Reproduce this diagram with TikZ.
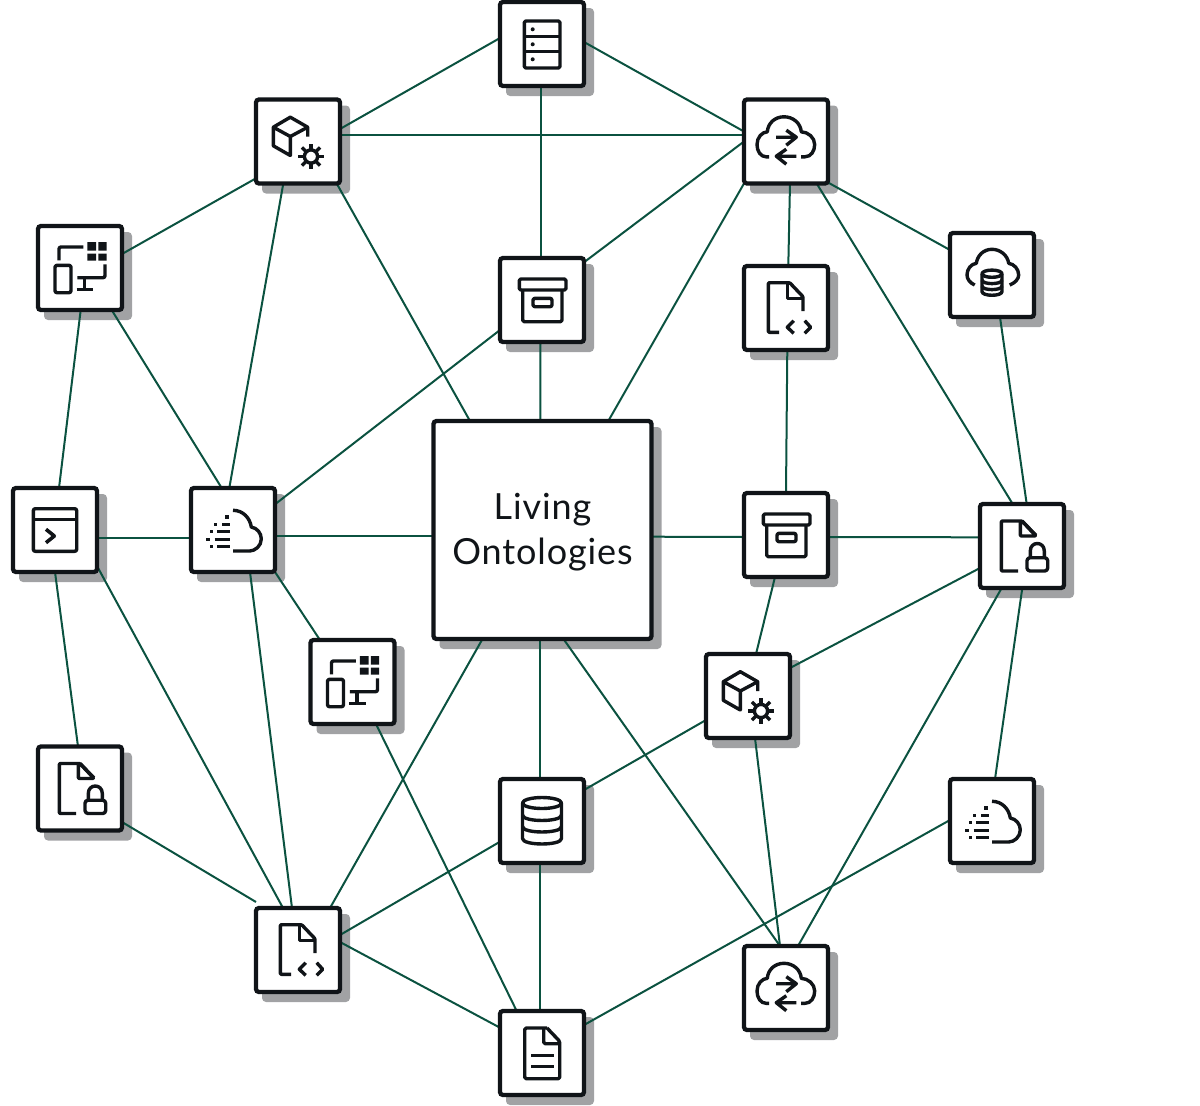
\documentclass[tikz,border=0pt]{standalone}
\usepackage{xcolor}
\usepackage{fontspec}
\setmainfont[LetterSpace=2.5]{Lato}
\definecolor{ink}{HTML}{101418}
\definecolor{linkgreen}{HTML}{0B5240}
\definecolor{shadowgrey}{HTML}{A1A2A4}
\pgfdeclarelayer{shadows}
\pgfdeclarelayer{links}
\pgfsetlayers{shadows,links,main}
\tikzset{
    tile/.style={rectangle, draw=ink, fill=white, line width=4.3pt, rounded corners=3pt, minimum size=84pt, outer sep=0pt, inner sep=0pt},
    core/.style={tile, minimum size=218pt, font=\fontsize{36}{45}\selectfont, text=ink, align=center},
    link/.style={draw=linkgreen, line width=2pt},
    glyph/.style={draw=ink, line width=3.4pt, line join=round},
    server glyph/.pic={
        \draw[glyph, rounded corners=1.5pt] (-17.7,-23) rectangle (18,24);
        \draw[glyph] (-17.7,-7.7) -- (18,-7.7) (-17.7,7.2) -- (18,7.2);
        \foreach \y in {-14.7,0.3,15.3} \fill[ink] (-9.3,\y) circle (2pt);
    },
    sync glyph/.pic={
        \draw[glyph, line cap=butt] (-17,15.3) -- (-20,15.3) .. controls (-25.5,15.3) and (-29,9.5) .. (-29,3) .. controls (-29,-4) and (-24,-9.5) .. (-18.7,-9.7) .. controls (-18,-18.5) and (-11,-24.7) .. (-2,-24.7) .. controls (7,-24.7) and (14.5,-18.5) .. (15.3,-9.7) .. controls (22,-9.5) and (28.7,-4) .. (28.7,3) .. controls (28.7,9.5) and (25,15.3) .. (19,15.3) -- (15,15.3);
        \draw[glyph] (-10,-4.3) -- (10.3,-4.3) (0.3,-11.3) -- (10.3,-4.3) -- (0.3,3.7);
        \draw[glyph] (10.3,14.7) -- (-9.7,14.7) (0.3,7.7) -- (-9.7,14.7) -- (0.3,22.7);
    },
    cube glyph/.pic={
        \draw[glyph] (9.7,-5) -- (9.7,-14.3) -- (-7.7,-24.3) -- (-24.7,-14.3) -- (-24.7,4.3) -- (-7.7,14) -- (-7.7,-5) -- (-24.7,-14.3);
        \draw[glyph] (-7.7,-5) -- (9.7,-14.3);
        \begin{scope}[shift={(13,15)}]
            \draw[glyph] (0,0) circle (6.6pt);
            \foreach \a in {0,45,...,315} \draw[ink, line width=3.4pt] (\a:7) -- (\a:12.8);
        \end{scope}
    },
    grid glyph/.pic={
        \fill[ink] (7.3,-26) rectangle (16,-17.3) (18.3,-26) rectangle (26.7,-17.3)
                   (7.3,-14.3) rectangle (16,-7.3) (18.3,-14.3) rectangle (26.7,-7.3);
        \draw[glyph, rounded corners=2pt] (-21,-7.7) -- (-21,-21) -- (3.3,-21);
        \draw[glyph, rounded corners=2pt] (-25,-2.7) rectangle (-9,24.7);
        \draw[glyph, rounded corners=2pt] (25,-3.7) -- (25,9.7) -- (-2.7,9.7);
        \draw[glyph] (4.3,9.7) -- (4.3,21.3) (-3.3,21.3) -- (13.3,21.3);
    },
    term glyph/.pic={
        \draw[glyph, rounded corners=2pt] (-21.7,-21.3) rectangle (21.7,21.3);
        \draw[glyph] (-21.7,-10.7) -- (21.7,-10.7);
        \draw[glyph, line width=3.6pt] (-9,-0.7) -- (-0.7,6) -- (-9,12.7);
    },
    fast glyph/.pic={
        \draw[glyph] (0,-19.7) .. controls (10,-19.7) and (17,-12) .. (18.3,-3) .. controls (24,-2) and (28.3,3) .. (28.3,9) .. controls (28.3,16) and (22,21) .. (16.7,21) -- (0,21);
        \foreach \x/\y in {-6/-13,-17.3/-5.7,-21.3/1.7,-25/9.3,-21.3/16.7}
            \fill[ink] (\x-1.6,\y-1.6) rectangle (\x+1.6,\y+1.6);
        \foreach \x/\y in {-11/-5.7,-15.7/1.7,-18.3/9.3,-15.7/16.7}
            \draw[ink, line width=3pt] (\x,\y) -- (-3.3,\y);
    },
    archive glyph/.pic={
        \draw[glyph, rounded corners=1.5pt] (-22.7,-21) rectangle (24,-10);
        \draw[glyph, rounded corners=1.5pt] (-19.3,-10) -- (-19.3,21.7) -- (20,21.7) -- (20,-10);
        \draw[glyph, rounded corners=2pt] (-9,-1.7) rectangle (10,6.7);
    },
    code glyph/.pic={
        \draw[glyph, rounded corners=1pt] (-7,24.3) -- (-17.7,24.3) -- (-17.7,-25.3) -- (3.7,-25.3) -- (17,-11.3) -- (17,3);
        \draw[glyph] (1.3,-25.3) -- (1.3,-9.7) -- (17,-9.7);
        \draw[glyph] (7.7,12.7) -- (1.3,19.3) -- (7.7,25.3) (18.7,12.7) -- (24.7,19.3) -- (18.7,25.3);
    },
    clouddb glyph/.pic={
        \draw[glyph] (-17.3,10) .. controls (-22,8) and (-25,4) .. (-25,0) .. controls (-25,-6) and (-21,-11) .. (-15.7,-11.7) .. controls (-14.5,-20) and (-8,-25.7) .. (0,-25.7) .. controls (8,-25.7) and (15.5,-20) .. (16.7,-11.7) .. controls (22,-11) and (26.7,-6) .. (26.7,0) .. controls (26.7,4) and (23,8) .. (17.7,10);
        \draw[glyph] (0,-1.3) ellipse [x radius=10, y radius=3.6];
        \draw[glyph] (-10,-1.3) -- (-10,16.5) .. controls (-10,21.5) and (10,21.5) .. (10,16.5) -- (10,-1.3);
        \foreach \y in {5,11} \draw[glyph] (-10,\y) .. controls (-10,\y+4.8) and (10,\y+4.8) .. (10,\y);
    },
    db glyph/.pic={
        \draw[glyph] (0,-18) ellipse [x radius=19.5, y radius=5.5];
        \draw[glyph] (-19.5,-18) -- (-19.5,17.5) .. controls (-19.5,24.8) and (19.5,24.8) .. (19.5,17.5) -- (19.5,-18);
        \foreach \y in {-6,5.5} \draw[glyph] (-19.5,\y) .. controls (-19.5,\y+7.3) and (19.5,\y+7.3) .. (19.5,\y);
    },
    doc glyph/.pic={
        \draw[glyph, rounded corners=1.5pt] (5,-25) -- (-17.3,-25) -- (-17.3,25.7) -- (17.7,25.7) -- (17.7,-11.7) -- (5,-25);
        \draw[glyph, rounded corners=1.5pt] (1.7,-25) -- (1.7,-9.3) -- (17.7,-9.3);
        \draw[glyph] (-11,2.3) -- (11.7,2.3) (-11,13.3) -- (11.7,13.3);
    },
    lock glyph/.pic={
        \draw[glyph, rounded corners=1pt] (-4,25) -- (-20.7,25) -- (-20.7,-25) -- (0,-25) -- (14,-10.7);
        \draw[glyph, rounded corners=1pt] (-1.7,-25) -- (-1.7,-10) -- (14,-10) -- (0,-25);
        \draw[glyph, rounded corners=3pt] (5,11.7) rectangle (25.7,25);
        \draw[glyph] (8.3,11.7) -- (8.3,5) .. controls (8.3,-5) and (22.3,-5) .. (22.3,5) -- (22.3,11.7);
    },
}

\begin{document}
\begin{tikzpicture}[x=1pt, y=-1pt]
    \useasboundingbox (0,0) rectangle (1200,1106);

    % Centre block
    \node (core) [core] at (542.5,530) {\rule{0pt}{31pt}Living\\Ontologies};

    % Tiles
    \node (server) [tile] at (542,44) {};
    \node (sync1) [tile] at (786,141.5) {};
    \node (cube1) [tile] at (298,141.5) {};
    \node (grid1) [tile] at (80,268) {};
    \node (archive1) [tile] at (542,300) {};
    \node (code1) [tile] at (786,308) {};
    \node (clouddb) [tile] at (992,275) {};
    \node (term) [tile] at (55,530) {};
    \node (fast1) [tile] at (233,530) {};
    \node (archive2) [tile] at (786,535) {};
    \node (lock1) [tile] at (1022,546) {};
    \node (grid2) [tile] at (352.5,682) {};
    \node (cube2) [tile] at (748,696) {};
    \node (lock2) [tile] at (80,788.5) {};
    \node (db) [tile] at (542,821) {};
    \node (fast2) [tile] at (992,821) {};
    \node (code2) [tile] at (298,950) {};
    \node (sync2) [tile] at (786,988) {};
    \node (doc) [tile] at (542,1053) {};

    % Icons
    \foreach \n/\g in {server/server, sync1/sync, cube1/cube, grid1/grid, archive1/archive, code1/code,
                       clouddb/clouddb, term/term, fast1/fast, archive2/archive, lock1/lock, grid2/grid,
                       cube2/cube, lock2/lock, db/db, fast2/fast, code2/code, sync2/sync, doc/doc}
        \pic at (\n) {\g\space glyph};

    % Shadows
    \begin{pgfonlayer}{shadows}
        \foreach \n in {core, server, sync1, cube1, grid1, archive1, code1, clouddb, term, fast1, archive2,
                        lock1, grid2, cube2, lock2, db, fast2, code2, sync2, doc}
            \fill[fill=shadowgrey, rounded corners=4pt] ([shift={(6,6)}]\n.north west) rectangle ([shift={(10,10)}]\n.south east);
    \end{pgfonlayer}

    % Links
    \begin{pgfonlayer}{links}
        \draw[link] ([yshift=6]server.west) -- ([yshift=12.5]cube1.east);
        \draw[link] ([yshift=2]server.east) -- ([yshift=10]sync1.west);
        \draw[link] ([yshift=6.5]cube1.east) -- ([yshift=6.5]sync1.west);
        \draw[link] ([xshift=-1.5]server.south) -- ([xshift=-1.5]archive1.north);
        \draw[link] ([yshift=37.7]archive1.east) -- (sync1.west);
        \draw[link] ([xshift=-1.5]archive1.south) -- ([xshift=-2.2]core.north);
        \draw[link] ([xshift=65.8]core.north) -- ([xshift=-42]sync1.south);
        \draw[link] ([xshift=38.7]cube1.south) -- ([xshift=-72.5]core.north);
        \draw[link] ([xshift=-14.7]cube1.south) -- ([xshift=-3.7]fast1.north);
        \draw[link] ([yshift=-36.8]cube1.west) -- ([yshift=14]grid1.east);
        \draw[link] ([xshift=31.7]grid1.south) -- ([xshift=-11.3]fast1.north);
        \draw[link] ([xshift=0.7]grid1.south) -- ([xshift=4]term.north);
        \draw[link] ([yshift=-30]archive1.west) -- ([yshift=25.7]fast1.east);
        \draw[link] ([yshift=-7.7]term.east) -- ([yshift=-7.7]fast1.west);
        \draw[link] ([yshift=-6]fast1.east) -- ([yshift=-6]core.west);
        \draw[link] (term.south) -- ([xshift=-2]lock2.north);
        \draw[link] ([yshift=-36]term.east) -- ([xshift=-15]code2.north);
        \draw[link] ([xshift=17]fast1.south) -- ([xshift=-6]code2.north);
        \draw[link] ([xshift=42]fast1.south) -- ([xshift=-32.5]grid2.north);
        \draw[link] ([xshift=23.5]grid2.south) -- ([xshift=-25.3]doc.north);
        \draw[link] ([xshift=-60]core.south) -- ([xshift=32]code2.north);
        \draw[link] ([xshift=-2.5]core.south) -- ([xshift=-2]db.north);
        \draw[link] ([xshift=21]core.south) -- ([xshift=-6]sync2.north);
        \draw[link] ([yshift=-33.5]lock2.east) -- ([yshift=48]code2.west);
        \draw[link] ([yshift=15]code2.east) -- ([yshift=-20.7]db.west);
        \draw[link] ([yshift=8]code2.east) -- ([yshift=25.3]doc.west);
        \draw[link] ([xshift=-2]db.south) -- ([xshift=-2]doc.north);
        \draw[link] ([yshift=31]db.east) -- ([yshift=-24]cube2.west);
        \draw[link] ([yshift=28]cube2.east) -- ([yshift=-22]lock1.west);
        \draw[link] ([xshift=8]cube2.north) -- ([xshift=-11]archive2.south);
        \draw[link] ([xshift=7]cube2.south) -- ([xshift=-6]sync2.north);
        \draw[link] ([yshift=-6.7]core.east) -- ([yshift=-2]archive2.west);
        \draw[link] ([yshift=-2]archive2.east) -- ([yshift=8.7]lock1.west);
        \draw[link] (archive2.north) -- ([xshift=1.3]code1.south);
        \draw[link] ([xshift=2.3]code1.north) -- ([xshift=4]sync1.south);
        \draw[link] ([xshift=30.7]sync1.south) -- ([xshift=-9.3]lock1.north);
        \draw[link] ([yshift=-41]sync1.east) -- ([yshift=25]clouddb.west);
        \draw[link] ([xshift=8]clouddb.south) -- ([xshift=4.7]lock1.north);
        \draw[link] ([xshift=0.3]lock1.south) -- ([xshift=3]fast2.north);
        \draw[link] ([xshift=-20.3]lock1.south) -- ([xshift=12]sync2.north);
        \draw[link] ([yshift=1]fast2.west) -- ([yshift=28]doc.east);
    \end{pgfonlayer}
\end{tikzpicture}
\end{document}
